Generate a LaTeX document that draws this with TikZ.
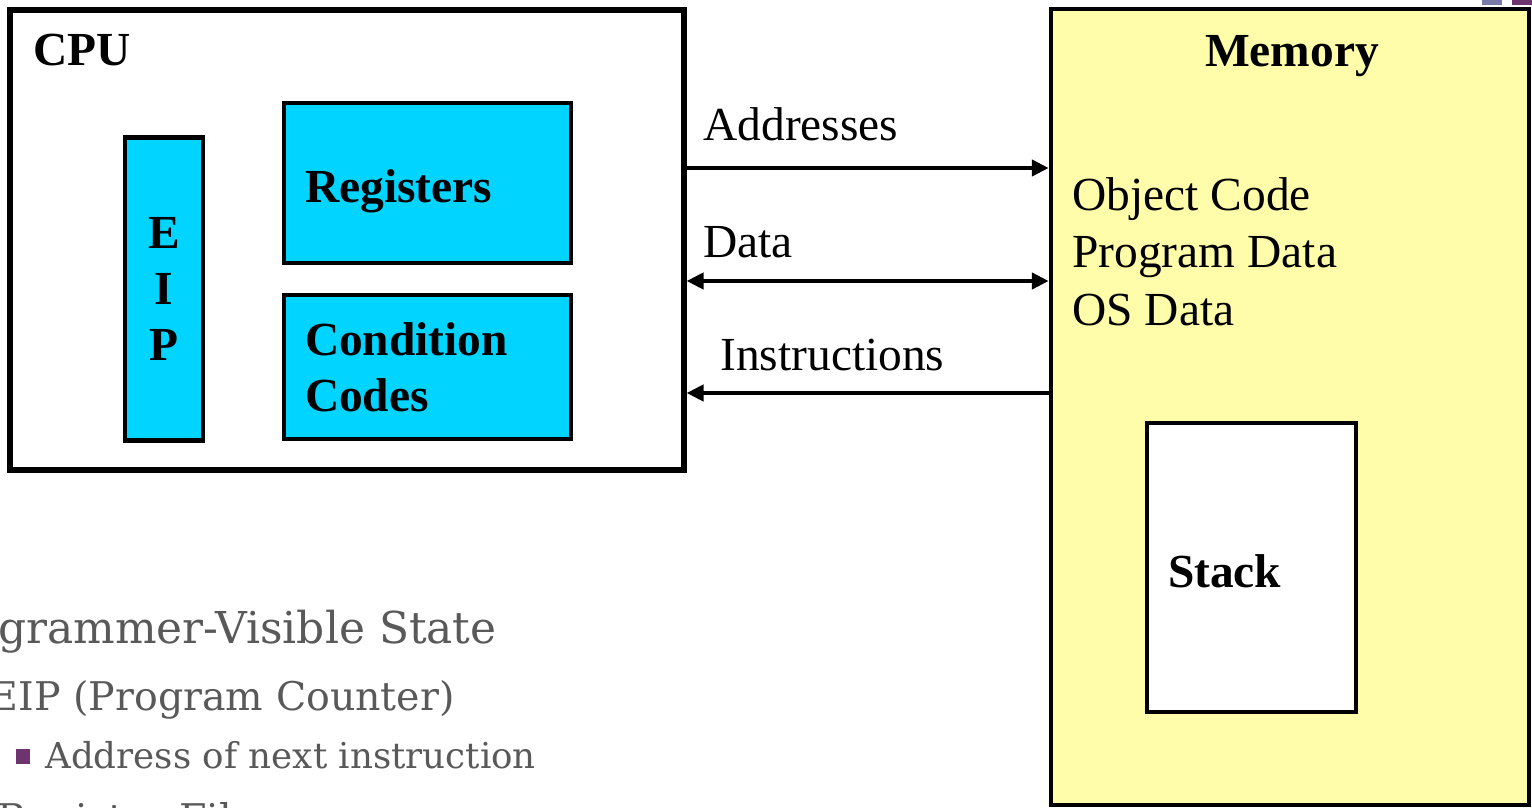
\documentclass[tikz,border=0pt]{standalone}
\usepackage{fontspec}
\setmainfont{Liberation Serif}
\newfontfamily\slidefont{DejaVu Serif}
\usepackage{tikz}
\usetikzlibrary{arrows.meta, positioning}
\definecolor{regcyan}{HTML}{00D4FF}
\definecolor{memyellow}{HTML}{FFFCAA}
\definecolor{slidegray}{HTML}{595959}
\definecolor{slidepurple}{HTML}{6E3470}
\definecolor{slideblue}{HTML}{7A7AAA}
\newcommand{\boxfont}{\fontsize{27}{32}\selectfont}

\begin{document}
\begin{tikzpicture}[x=0.02cm, y=-0.02cm,
  outerbox/.style={rectangle, draw=black, line width=3pt, inner sep=0pt},
  partbox/.style={rectangle, draw=black, line width=2.5pt, fill=regcyan,
                  inner xsep=0.42cm, inner ysep=0pt, align=left, font=\boxfont\bfseries},
  lowtext/.style={text height=1.0cm, text depth=0.2cm},
  lbl/.style={inner sep=0pt, font=\boxfont},
  bustip/.tip={Triangle[length=0.34cm, width=0.32cm]},
  bus/.style={line width=2.6pt},
  note/.style={inner sep=0pt, text=slidegray},
  bulletsq/.style={fill=slidepurple, minimum size=0.3cm, inner sep=0pt}]
  \useasboundingbox (0,0) rectangle (1532,808);
  \clip (0,0) rectangle (1532,808);
  % slide corner marks
  \fill[slideblue] (1482,0) rectangle (1502,5);
  \fill[slidepurple] (1512,0) rectangle (1532,5);

  % processor
  \node[outerbox, fill=white, minimum width=13.48cm, minimum height=9.2cm] (cpu) at (347,240) {};
  \node[lbl, anchor=base west, font=\boxfont\bfseries] (cpulbl) at (33,65) {CPU};
  \node[partbox, align=center, text width=0.72cm, minimum height=6.06cm] (eip) at (164,289) {E\\I\\P};
  \node[partbox, lowtext, text width=4.9cm, minimum height=3.2cm] (regs) at (427.5,183) {Registers};
  \node[partbox, text width=4.9cm, minimum height=2.88cm] (cc) at (427.5,367) {Condition\\Codes};

  % memory
  \node[outerbox, fill=memyellow, line width=2.6pt, minimum width=9.56cm, minimum height=15.92cm] (mem) at (1290,407) {};
  \node[lbl, anchor=base, font=\boxfont\bfseries] (memlbl) at (1292,66) {Memory};
  \node[lbl, anchor=base west] (objcode) at (1072,210) {Object Code};
  \node[lbl, anchor=base west] (progdata) at (1072,267) {Program Data};
  \node[lbl, anchor=base west] (osdata) at (1072,325) {OS Data};
  \node[partbox, lowtext, fill=white, text width=3.34cm, minimum height=5.78cm] (stack) at (1251.5,567.5) {Stack};

  % buses
  \coordinate (addr) at (0,168);
  \coordinate (data) at (0,281);
  \coordinate (instr) at (0,393);
  \draw[bus, -bustip] (cpu.east |- addr) -- (mem.west |- addr);
  \draw[bus, bustip-bustip] (cpu.east |- data) -- (mem.west |- data);
  \draw[bus, -bustip] (mem.west |- instr) -- (cpu.east |- instr);
  \node[lbl, anchor=base west] (addrlbl) at (703,140) {Addresses};
  \node[lbl, anchor=base west] (datalbl) at (703,257) {Data};
  \node[lbl, anchor=base west] (instrlbl) at (720,370) {Instructions};

  % slide text below
  \node[note, anchor=base east, font={\slidefont\fontsize{25}{29}\selectfont}] (pvs) at (497,643) {Programmer-Visible State};
  \node[note, anchor=base east, font={\slidefont\fontsize{22.5}{26}\selectfont}] (pcnote) at (455,710) {EIP (Program Counter)};
  \node[bulletsq] (bul) at (23,756) {};
  \node[note, anchor=base west, font={\slidefont\fontsize{20.3}{24}\selectfont}] (nextins) at (45,768) {Address of next instruction};
  \node[note, anchor=base west, font={\slidefont\fontsize{22.5}{26}\selectfont}] (regfile) at (-3,832) {Register File};
\end{tikzpicture}
\end{document}
